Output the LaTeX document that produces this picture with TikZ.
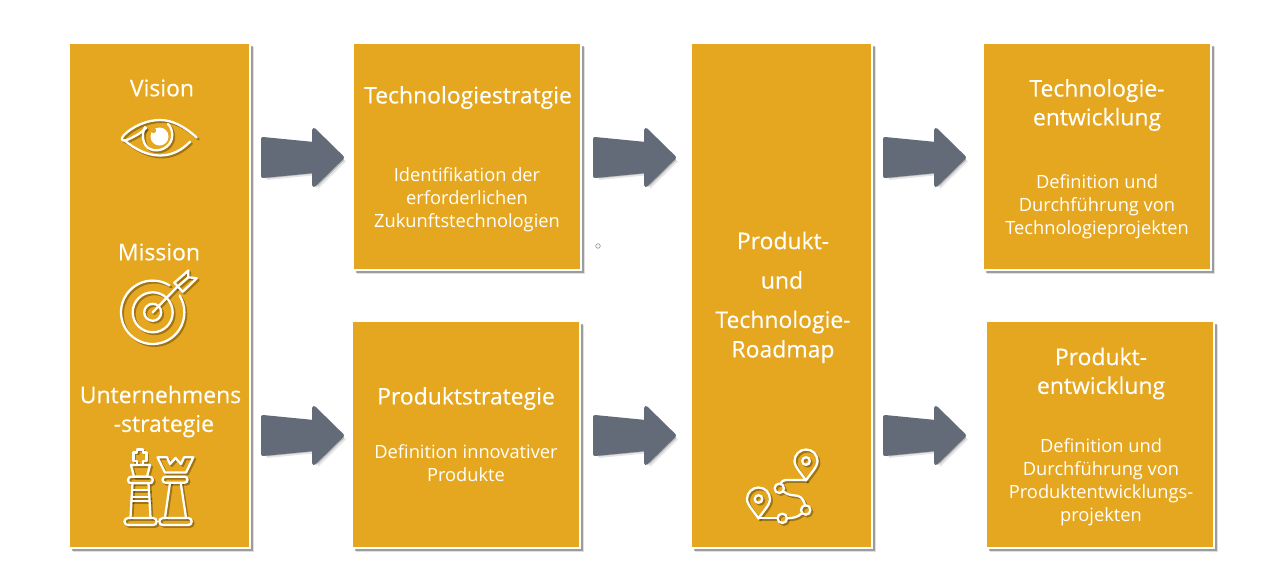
\documentclass[tikz,border=0pt]{standalone}
\usepackage{fontspec}
\setmainfont{Open Sans}
\newfontface\titleface{Open Sans}[FakeBold=0.25]
\usetikzlibrary{shadows}
\definecolor{gold}{HTML}{E5A71F}
\definecolor{slatearrow}{HTML}{636B79}
\tikzset{
  x=0.75pt,y=-0.75pt,
  box/.style={draw=white,line width=1.5pt,fill=gold,inner sep=0pt,
    drop shadow={shadow xshift=3pt,shadow yshift=-3pt,fill=black,opacity=.12},
    drop shadow={shadow xshift=2.1pt,shadow yshift=-2.1pt,fill=black,opacity=.3}},
  title/.style={text=white,font=\titleface\fontsize{17.2pt}{21.6pt}\selectfont,align=center,inner sep=0pt},
  body/.style={text=white,font=\fontsize{13.7pt}{17.25pt}\selectfont,align=center,inner sep=0pt},
  iconline/.style={line width=1.7pt,line cap=round,line join=round},
  flow/.style={fill=slatearrow,draw=slatearrow,line width=3pt,line join=round,
    drop shadow={shadow xshift=3pt,shadow yshift=-3pt,fill=black,opacity=.1},
    drop shadow={shadow xshift=1.8pt,shadow yshift=-1.8pt,fill=black,opacity=.2}},
  dot/.style={circle,draw=slatearrow!70,line width=.5pt,minimum size=3.4pt,inner sep=0pt},
}
\newcommand{\boxat}[5]{\node[box,minimum width=#3*0.75pt,minimum height=#4*0.75pt] (#5) at (#1,#2) {};}
\newcommand{\flowarrow}[3]{\begin{scope}[shift={(#1,#2)}]
  \coordinate (#3) at (0,0);
  \path[flow] (2,-18.5) -- (53,-13.5) -- (53,-27.5) -- (81,0) -- (53,27.5) -- (53,13.5) -- (2,18.5) -- cycle;
\end{scope}}
\newcommand{\eyeicon}[1]{
  \draw[#1] (196.7,137.5) .. controls (184,126) and (172,120) .. (160,120) .. controls (146,120) and (132,127) .. (124,135) .. controls (120,139) and (122,142) .. (127,140) .. controls (135,136) and (140,134) .. (146,128);
  \draw[#1] (124,140) .. controls (136,150) and (148,155.5) .. (160,155.5) .. controls (172,155.5) and (182,150) .. (190,141.7);
  \draw[#1] (145,127) .. controls (141,135) and (143,146) .. (150,149) .. controls (158,153) and (170,148) .. (172,138) .. controls (173,132) and (171,127) .. (168,124);
}
\newcommand{\targeticon}[1]{
  \draw[#1] (152.7,312.3) ++(-58:31.7) arc[start angle=-58,end angle=-392,radius=31.7];
  \draw[#1] (152.7,312.3) circle[radius=20];
  \draw[#1] (152.7,312.3) circle[radius=8.5];
  \draw[#1] (152.7,312.3) -- (176,288);
  \draw[#1] (174.3,282.7) -- (188.3,270.5) -- (188.3,277.3) -- (196.7,278.3) -- (182.7,291.7) -- cycle;
  \draw[#1] (176,288) -- (188.3,277.3);
}
\newcommand{\chessicon}[1]{
  \draw[#1] (137,464) -- (137,461) -- (133.5,461) -- (133.5,452.5) -- (137,452.5) -- (137,449.5) -- (143,449.5) -- (143,452.5) -- (146.5,452.5) -- (146.5,461) -- (143,461) -- (143,464);
  \draw[#1] (131,465) -- (150,465) -- (147,476.7) -- (134,476.7) -- cycle;
  \draw[#1,rounded corners=2.4pt] (128,476.7) rectangle (152.8,483.3);
  \draw[#1] (132.5,483.3) -- (130.5,517.5);
  \draw[#1] (148.5,483.3) -- (150.5,517.5);
  \draw[#1] (132,490) -- (149,490);
  \draw[#1] (131.5,497) -- (149.5,497);
  \draw[#1] (131.2,501) -- (149.8,501);
  \draw[#1,rounded corners=2.6pt] (124.5,518) rectangle (156.7,525);
  \draw[#1] (157.5,457.3) -- (167,457.3) -- (170,464) -- (175.5,458) -- (181,464) -- (184,457.3) -- (193.3,457.3) -- (186,472.5) -- (165,472.5) -- cycle;
  \draw[#1,rounded corners=2.2pt] (162.5,476.7) rectangle (187.5,482.7);
  \draw[#1] (170,482.7) -- (165,517.5);
  \draw[#1] (180.7,482.7) -- (186,517.5);
  \draw[#1,rounded corners=2.6pt] (159.3,518) rectangle (191.7,525);
}
\newcommand{\pinicon}[3]{
  \draw[#3] (#1,#2+18.5) .. controls (#1-4,#2+12) and (#1-11.5,#2+5) .. (#1-11.5,#2-1) arc[start angle=180,end angle=360,radius=11.5] .. controls (#1+11.5,#2+5) and (#1+4,#2+12) .. (#1,#2+18.5) -- cycle;
  \draw[#3] (#1,#2-1) circle[radius=3.8];
}
\newcommand{\mapicon}[1]{
  \pinicon{806}{462}{#1}
  \pinicon{758.5}{500}{#1}
  \draw[#1] (806,480) -- (787,480) .. controls (783,480) and (781,482) .. (780.5,483.6);
  \draw[#1] (779.3,488.3) circle[radius=4.7];
  \draw[#1] (783.5,491.5) .. controls (788,496) and (795,495) .. (798,496) .. controls (802,497) and (804,501) .. (805,505);
  \draw[#1] (805.7,510) circle[radius=4.7];
  \draw[#1] (801.5,513.5) .. controls (798,517) and (793,518.3) .. (787,518.3);
  \draw[#1] (782.3,518.3) circle[radius=4.7];
  \draw[#1] (777.6,518.3) -- (759.3,518.3);
}
\newcommand{\iconpair}[1]{
  \begin{scope}[shift={(1.8,1.8)},opacity=.3]#1{iconline,black}\end{scope}
  #1{iconline,white}
}
\begin{document}
\begin{tikzpicture}
\useasboundingbox (0,0) rectangle (1280,582);
\fill[white] (0,0) rectangle (1280,582);
\boxat{159.75}{295.75}{181}{505}{strategy}
\boxat{467.25}{156.75}{228}{227}{tech}
\boxat{466.25}{434.75}{228}{227}{prod}
\boxat{781.75}{295.75}{181}{505}{roadmap}
\boxat{1097.25}{156.75}{228}{227}{techdev}
\boxat{1100.25}{434.75}{228}{227}{proddev}
\flowarrow{261}{157.5}{a1}
\flowarrow{261}{435.5}{a2}
\flowarrow{593}{157.5}{a3}
\flowarrow{593}{435.5}{a4}
\flowarrow{883}{157.5}{a5}
\flowarrow{883}{435.5}{a6}
\node[title] (vision) at (162,88) {Vision};
\node[title] (mission) at (159,252) {Mission};
\node[title] (unt) at (160.5,411.5) {Unternehmens\\\hspace{5pt}-strategie};
\iconpair{\eyeicon}
\fill[white] (159.5,136.5) circle[radius=9];
\fill[gold] (153.5,130.5) circle[radius=2.6];
\iconpair{\targeticon}
\iconpair{\chessicon}
\iconpair{\mapicon}
\node[title] (techt) at (468,97.5) {Technologiestratgie};
\node[body] (techb) at (467,199.5) {Identifikation der\\erforderlichen\\Zukunftstechnologien};
\node[dot] (smalldot) at (598,246) {};
\node[title] (prodt) at (466,398.5) {Produktstrategie};
\node[body] (prodb) at (466,463) {Definition innovativer\\Produkte};
\node[title] (r1) at (783,240.5) {Produkt-};
\node[title] (r2) at (782,280) {und};
\node[title] (r3) at (783,322) {Technologie-};
\node[title] (r4) at (783,351.5) {Roadmap};
\node[title] (tdt) at (1097,105) {Technologie-\\entwicklung};
\node[body] (tdb) at (1097,206.5) {Definition und\\Durchführung von\\Technologieprojekten};
\node[title] (pdt) at (1101,373.5) {Produkt-\\entwicklung};
\node[body] (pdb) at (1101,482) {Definition und\\Durchführung von\\Produktentwicklungs-\\projekten};
\end{tikzpicture}
\end{document}
